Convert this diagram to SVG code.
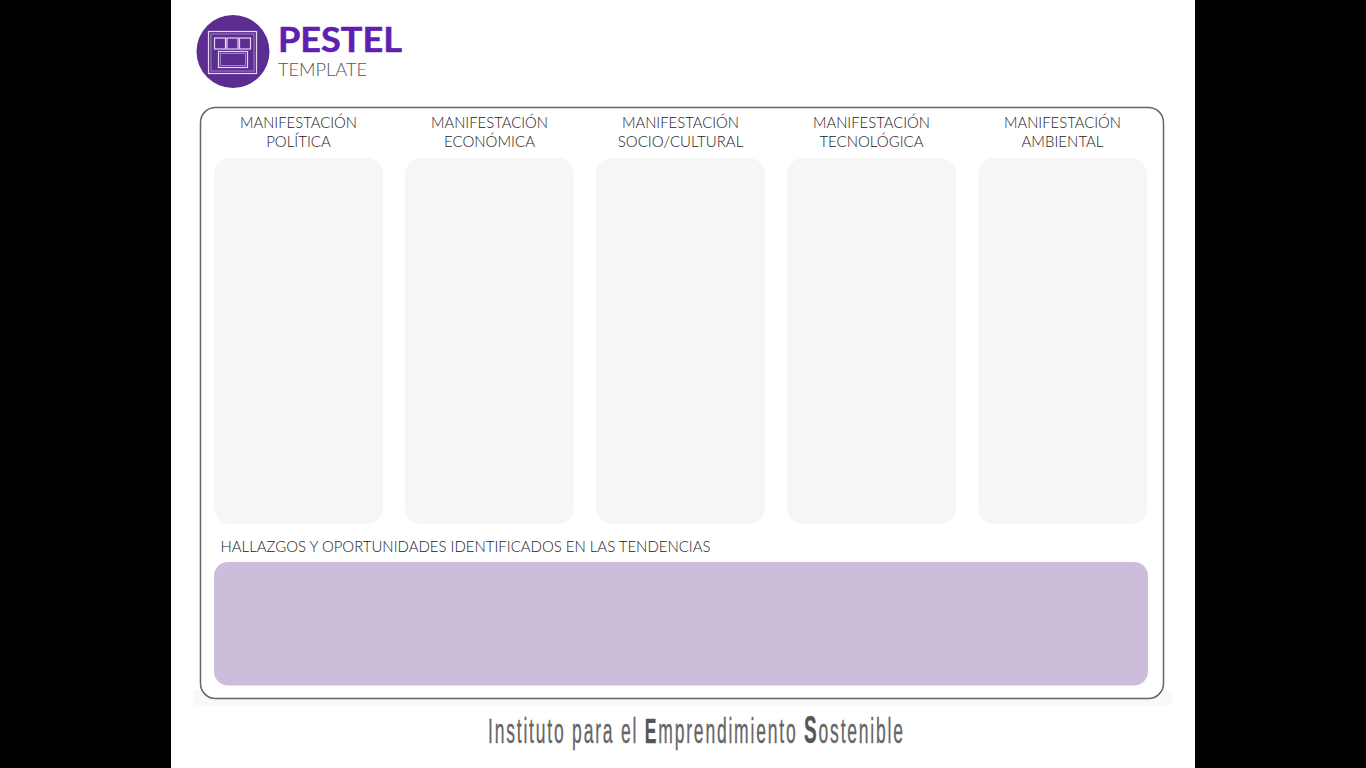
<svg xmlns="http://www.w3.org/2000/svg" width="1366" height="768" viewBox="0 0 1366 768">
<style>
.col{fill:#f6f6f6}
.lb{font-family:Lato,"Open Sans",sans-serif;font-size:15px;font-weight:300;fill:#222;text-anchor:middle}
.ic{fill:none;stroke:#e3d8ee;stroke-width:1.200}
</style>
<rect width="1366" height="768" fill="#000"/>
<rect x="171" width="1024" height="768" fill="#fff"/>
<rect x="193" y="690" width="979" height="15" fill="#f9f9f9"/>
<g id="logo">
<circle cx="233" cy="51.500" r="36.500" fill="#5b2d91"/>
<rect class="ic" x="208.500" y="31.500" width="48" height="42"/>
<rect class="ic" x="211" y="34" width="43" height="37" style="stroke-width:.7" opacity=".7"/>
<rect class="ic" x="214.500" y="38" width="11" height="11"/>
<rect class="ic" x="227" y="38" width="11" height="11"/>
<rect class="ic" x="239.500" y="38" width="11" height="11"/>
<rect class="ic" x="218.500" y="51.500" width="29" height="16"/>
<rect class="ic" x="220.500" y="53.500" width="25" height="12" style="stroke-width:.7" opacity=".7"/>
<text x="278" y="51.500" textLength="124" lengthAdjust="spacingAndGlyphs" font-family="Lato,'Open Sans',sans-serif" font-size="34" font-weight="700" fill="#5f1fb0" stroke="#5f1fb0" stroke-width=".5">PESTEL</text>
<text x="278" y="76" textLength="89" lengthAdjust="spacingAndGlyphs" font-family="Lato,'Open Sans',sans-serif" font-size="17.500" font-weight="300" fill="#555">TEMPLATE</text>
</g>
<g id="frame"><rect x="200.500" y="107.500" width="963" height="591" rx="15" fill="#fff" stroke="#666" stroke-width="1.500"/></g>
<g id="n1"><text class="lb" x="298.500" y="128" textLength="117" lengthAdjust="spacingAndGlyphs">MANIFESTACIÓN</text><text class="lb" x="298.500" y="147">POLÍTICA</text><rect class="col" x="214" y="158" width="169" height="366" rx="16"/></g>
<g id="n2"><text class="lb" x="489.500" y="128" textLength="117" lengthAdjust="spacingAndGlyphs">MANIFESTACIÓN</text><text class="lb" x="489.500" y="147">ECONÓMICA</text><rect class="col" x="405" y="158" width="169" height="366" rx="16"/></g>
<g id="n3"><text class="lb" x="680.500" y="128" textLength="117" lengthAdjust="spacingAndGlyphs">MANIFESTACIÓN</text><text class="lb" x="680.500" y="147">SOCIO/CULTURAL</text><rect class="col" x="596" y="158" width="169" height="366" rx="16"/></g>
<g id="n4"><text class="lb" x="871.500" y="128" textLength="117" lengthAdjust="spacingAndGlyphs">MANIFESTACIÓN</text><text class="lb" x="871.500" y="147">TECNOLÓGICA</text><rect class="col" x="787" y="158" width="169" height="366" rx="16"/></g>
<g id="n5"><text class="lb" x="1062.500" y="128" textLength="117" lengthAdjust="spacingAndGlyphs">MANIFESTACIÓN</text><text class="lb" x="1062.500" y="147">AMBIENTAL</text><rect class="col" x="978" y="158" width="169" height="366" rx="16"/></g>
<g id="findings"><text class="lb" x="220.500" y="552" textLength="490" lengthAdjust="spacingAndGlyphs" style="text-anchor:start">HALLAZGOS Y OPORTUNIDADES IDENTIFICADOS EN LAS TENDENCIAS</text><rect x="214" y="562" width="934" height="123.500" rx="14" fill="#ccbedb"/></g>
<g id="connectors"></g>
<g id="footer"><text transform="translate(488 743) scale(.5 1)" font-family="'Liberation Sans',sans-serif" font-size="35" fill="#666" stroke="#666" stroke-width=".35" letter-spacing="3.600">Instituto para el <tspan fill="#555" font-weight="700">E</tspan>mprendimiento <tspan fill="#555" font-weight="700" font-size="38">S</tspan>ostenible</text></g>
</svg>
